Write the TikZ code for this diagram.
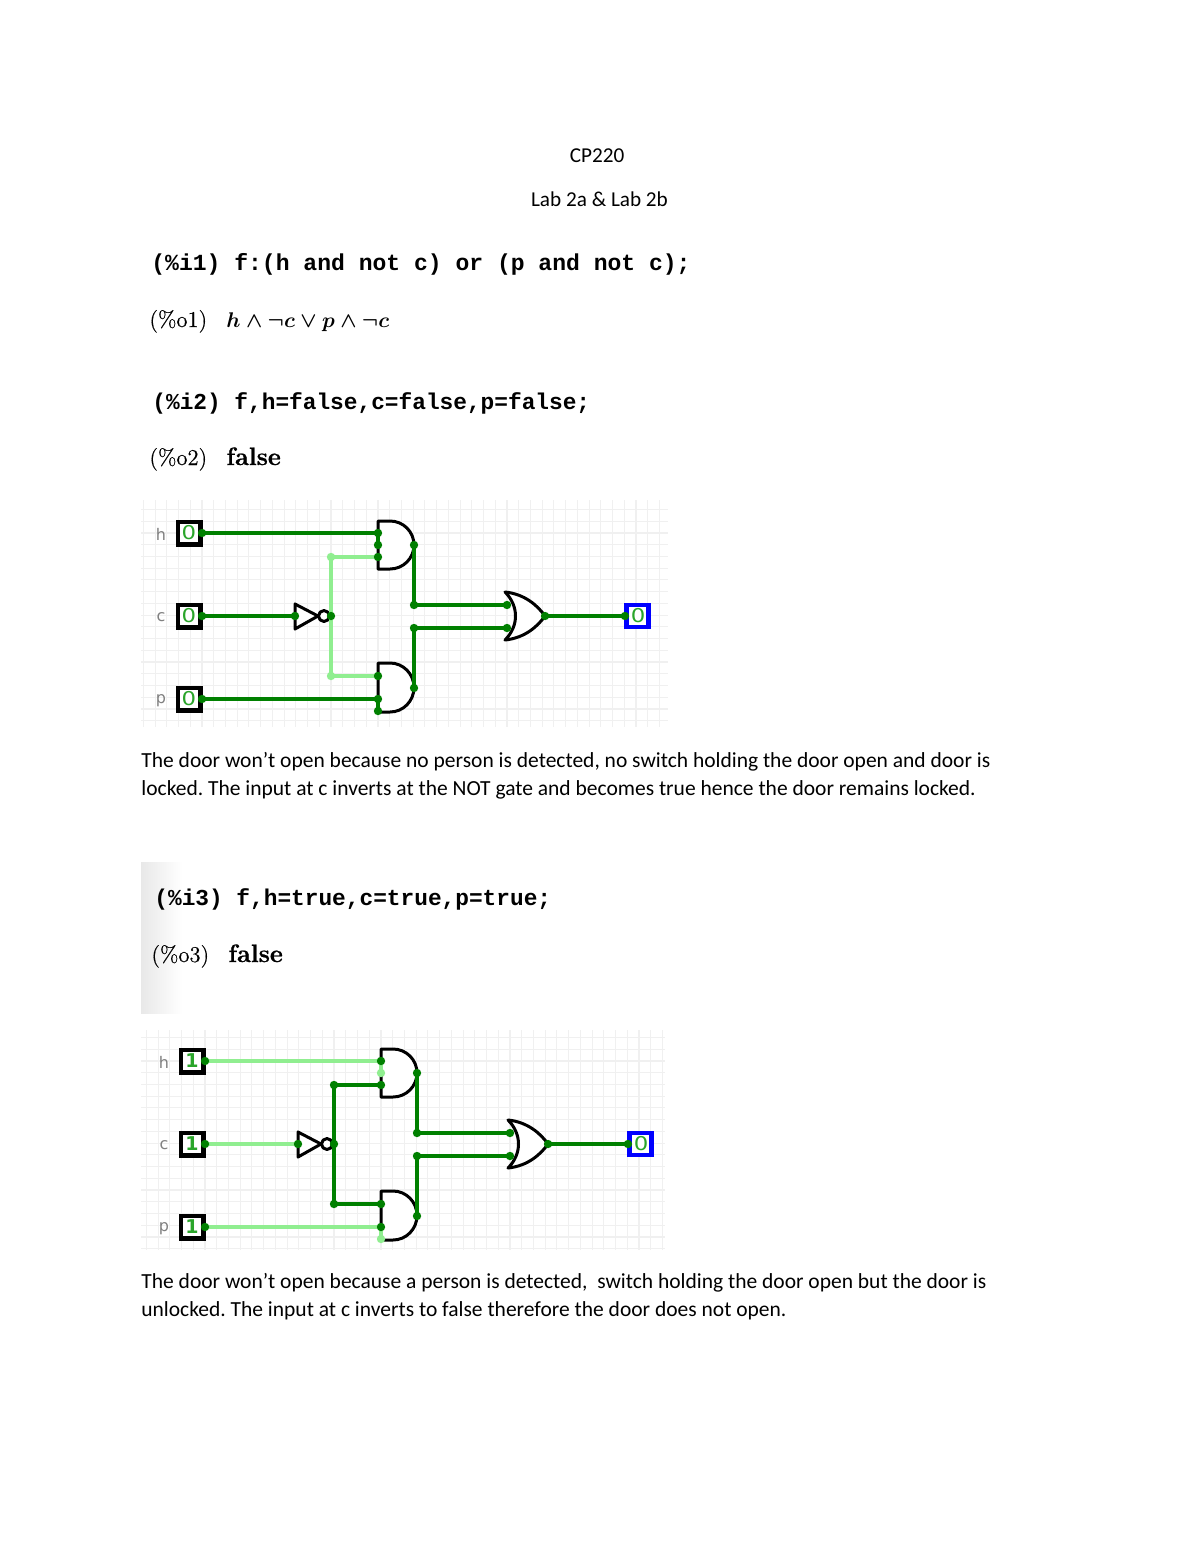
\documentclass[tikz,border=0pt]{standalone}
\usepackage{fontspec}
\newfontfamily\bodyfont{Carlito}
\newfontfamily\maxmono{Liberation Mono}
\newfontfamily\simfont{DejaVu Sans}
\newfontfamily\lmfont{Latin Modern Roman}
\definecolor{wdark}{HTML}{008000}
\definecolor{wlight}{HTML}{90EE90}
\definecolor{gridc}{HTML}{F0F0F0}
\definecolor{labelc}{HTML}{808080}
\definecolor{digitc}{HTML}{2AA52A}
\tikzset{
  wire/.style={line width=1.7pt},
  gatepath/.style={draw=black,line width=1.5pt,fill=white,line join=round},
  inbox/.style={draw=black,line width=2.1pt,fill=white,minimum size=11.4pt,inner sep=0pt},
  outbox/.style={draw=blue,line width=2.1pt,fill=white,minimum size=11pt,inner sep=0pt},
  siglabel/.style={font=\simfont\fontsize{8}{9}\selectfont,text=labelc,inner sep=0pt},
  digit/.style={font=\simfont\fontsize{9.5}{10}\selectfont,text=digitc,inner sep=0pt},
  wdot/.style={circle,fill=#1,inner sep=0pt,minimum size=4.2pt},
  bodytext/.style={anchor=base west,inner sep=0pt,font=\bodyfont\frenchspacing\fontsize{10.75}{13}\selectfont},
  titletext/.style={anchor=base,inner sep=0pt,font=\bodyfont\fontsize{10.6}{13}\selectfont},
  inp/.style={anchor=base west,inner sep=0pt,font=\maxmono\bfseries\fontsize{11.4}{13}\selectfont},
  outp/.style={anchor=base west,inner sep=0pt,font=\lmfont\addfontfeatures{FakeBold=0.4}\fontsize{11.3}{13}\selectfont,text=black},
  outb/.style={anchor=base west,inner sep=0pt,font=\lmfont\bfseries\addfontfeatures{FakeBold=0.8}\fontsize{12.6}{14}\selectfont,text=black},
  gridline/.style={draw=gridc,line width=.55pt}
}
% #1 input wire colour, #2 inverter output colour, #3 input digit
\newcommand{\logiccircuit}[3]{%
  \node[inbox] (inh) at (189,533) {};
  \node[inbox] (inc) at (189,616) {};
  \node[inbox] (inp1) at (189,699) {};
  \node[outbox] (outbx) at (637.5,616) {};
  \node[siglabel] (lh) at (161,534) {h};
  \node[siglabel] (lc) at (161,617) {c};
  \node[siglabel] (lp) at (161,701) {p};
  \node[digit] (dh) at (189,533) {#3};
  \node[digit] (dc) at (189,616) {#3};
  \node[digit] (dp) at (189,699) {#3};
  \node[digit] (do) at (638,616) {\scalebox{1.2}[1]{0}};
  \coordinate (ph) at (202,533);
  \coordinate (pc) at (202,616);
  \coordinate (pp) at (202,699);
  \coordinate (a1) at (378,533);
  \coordinate (a2) at (378,545);
  \coordinate (a3) at (378,557);
  \coordinate (ao) at (414,545);
  \coordinate (b1) at (378,676);
  \coordinate (b2) at (378,699);
  \coordinate (b3) at (378,711);
  \coordinate (bo) at (414,688);
  \coordinate (ni) at (295,616);
  \coordinate (no) at (331,616);
  \coordinate (nu) at (331,557);
  \coordinate (nd) at (331,676);
  \coordinate (j1) at (414,605);
  \coordinate (j2) at (414,628);
  \coordinate (o1) at (507,605);
  \coordinate (o2) at (507,628);
  \coordinate (oo) at (545,616);
  \coordinate (op) at (625,616);
  % gates
  \path[gatepath] (378,521) -- (390,521) arc[start angle=90,end angle=-90,x radius=24,y radius=-24] -- (378,569) -- cycle;
  \path[gatepath] (378,663) -- (390,663) arc[start angle=90,end angle=-90,x radius=24,y radius=-24.5] -- (378,712) -- cycle;
  \path[gatepath] (505,592) .. controls (525,594) and (538,606) .. (545,616)
     .. controls (538,626) and (525,638) .. (505,640)
     .. controls (519,626) and (519,606) .. (505,592) -- cycle;
  \path[gatepath] (295,604) -- (318,616) -- (295,629) -- cycle;
  \path[gatepath] (324,616) circle[radius=5.5];
  % wires
  \draw[wire,#1] (ph) -- (a1);
  \draw[wire,#1] (a1) -- (a2);
  \draw[wire,#1] (pc) -- (ni);
  \draw[wire,#1] (pp) -- (b2);
  \draw[wire,#1] (b2) -- (b3);
  \draw[wire,#2] (a3) -- (nu) -- (nd) -- (b1);
  \draw[wire,#2] (no) -- (nu);
  \draw[wire,wdark] (ao) -- (j1) -- (o1);
  \draw[wire,wdark] (bo) -- (j2) -- (o2);
  \draw[wire,wdark] (oo) -- (op);
  % connection dots
  \foreach \d in {ph,pc,pp,a1,a3,ao,b1,b2,bo,ni,no,j1,j2,o1,o2,oo,op}
    \node[wdot=wdark] at (\d) {};
  \node[wdot=#1] at (a2) {};
  \node[wdot=#1] at (b3) {};
  \node[wdot=#2] at (nu) {};
  \node[wdot=#2] at (nd) {};
}
\begin{document}
\begin{tikzpicture}[x=.5pt,y=-.5pt]
\useasboundingbox[fill=white] (0,0) rectangle (1200,1553);

\node[titletext] (t1) at (597,162) {CP220};
\node[titletext] (t2) at (599.5,206) {Lab 2a \& Lab 2b};

\node[inp,font=\maxmono\bfseries\fontsize{11.52}{13}\selectfont] (i1) at (151,270) {(\%i1) f:(h and not c) or (p and not c);};
\node[outp] (o1l) at (149,327) {(\%o1)};
\node[outp] (o1r) at (226,327) {\scalebox{.97}{\boldmath$h\wedge\neg c\vee p\wedge\neg c$}};
\node[inp] (i2) at (152,409) {(\%i2) f,h=false,c=false,p=false;};
\node[outp] (o2l) at (149,465) {(\%o2)};
\node[outb] (o2r) at (226,465) {false};

% first circuit
\foreach \k in {-5,...,39} \draw[gridline] ({202+\k*11.73},500) -- ({202+\k*11.73},727);
\foreach \k in {-2,...,16} \draw[gridline] (141,{533+\k*11.73}) -- (668,{533+\k*11.73});
\begin{scope}[name prefix=a-]
\logiccircuit{wdark}{wlight}{\scalebox{1.2}[1]{0}}
\end{scope}

\node[bodytext] (p1) at (141,767) {The door won’t open because no person is detected, no switch holding the door open and door is};
\node[bodytext] (p2) at (141,795) {locked. The input at c inverts at the NOT gate and becomes true hence the door remains locked.};

% panel with soft left edge
\shade[left color=black!9,right color=white] (141,862) rectangle (182,1013);
\node[inp] (i3) at (154,905) {(\%i3) f,h=true,c=true,p=true;};
\node[outp] (o3l) at (151,962) {(\%o3)};
\node[outb] (o3r) at (228,962) {false};

% second circuit
\foreach \k in {-5,...,39} \draw[gridline] ({205+\k*11.73},1030) -- ({205+\k*11.73},1250);
\foreach \k in {-2,...,16} \draw[gridline] (141,{1061+\k*11.73}) -- (665,{1061+\k*11.73});
\begin{scope}[name prefix=b-,shift={(3,528)}]
\logiccircuit{wlight}{wdark}{\bfseries 1}
\end{scope}

\node[bodytext] (p3) at (141,1288) {The door won’t open because a person is detected,\ \ switch holding the door open but the door is};
\node[bodytext] (p4) at (141,1316) {unlocked. The input at c inverts to false therefore the door does not open.};
\end{tikzpicture}
\end{document}
